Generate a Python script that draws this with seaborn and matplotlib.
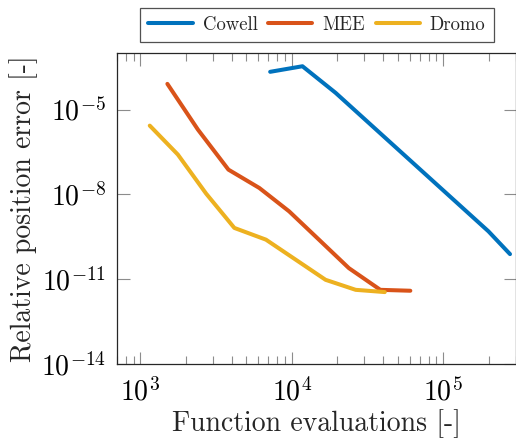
import numpy as np
import pandas as pd
import matplotlib
matplotlib.use("Agg")
import matplotlib.pyplot as plt
import seaborn as sns
from matplotlib.ticker import LogLocator, NullLocator, FixedLocator
from matplotlib.lines import Line2D

# ---- data ----
cowell_x = [7190, 11750, 19450, 199000, 276000]
cowell_y = [2.16e-4, 3.4e-4, 3.9e-5, 4.9e-10, 7.7e-11]

mee_x = [1506, 2395, 3810, 6100, 9600, 15100, 23800, 38400, 60600]
mee_y = [8.1e-5, 1.96e-6, 7.5e-8, 1.68e-8, 2.5e-9, 2.5e-10, 2.46e-11, 4.2e-12, 3.9e-12]

dromo_x = [1152, 1767, 2716, 4170, 6745, 10600, 16700, 26400, 41100]
dromo_y = [2.7e-6, 2.55e-7, 1.06e-8, 6.5e-10, 2.5e-10, 4.9e-11, 9.5e-12, 4.2e-12, 3.5e-12]

methods = ["Cowell", "MEE", "Dromo"]
colors = ["#0072BD", "#D95319", "#EDB120"]
y_ticks = [1e-14, 1e-11, 1e-8, 1e-5]

df = pd.concat([
    pd.DataFrame({"x": cowell_x, "y": cowell_y, "method": "Cowell"}),
    pd.DataFrame({"x": mee_x, "y": mee_y, "method": "MEE"}),
    pd.DataFrame({"x": dromo_x, "y": dromo_y, "method": "Dromo"}),
], ignore_index=True)

sns.set_theme(style="ticks")
plt.rcParams["font.family"] = ["cmr10", "DejaVu Serif"]
plt.rcParams["mathtext.fontset"] = "cm"
plt.rcParams["axes.unicode_minus"] = False
plt.rcParams["axes.formatter.use_mathtext"] = True

fig = plt.figure(figsize=(5.16, 4.45), dpi=100)
ax = fig.add_axes([117/516, 81/445, 398.5/516, 311/445])

sns.lineplot(data=df, x="x", y="y", hue="method", hue_order=methods,
             palette=dict(zip(methods, colors)), sort=False, estimator=None,
             linewidth=2.9, ax=ax, legend=False)

ax.set_xscale("log")
ax.set_yscale("log")
ax.set_xlim(700, 3e5)
ax.set_ylim(1e-14, 1e-3)
ax.yaxis.set_major_locator(FixedLocator(y_ticks))
ax.yaxis.set_minor_locator(NullLocator())
ax.xaxis.set_major_locator(LogLocator(base=10))
ax.xaxis.set_minor_locator(LogLocator(base=10, subs=np.arange(2, 10)))

ax.tick_params(which="both", direction="in", top=True, right=True,
               color="#8c8c8c", labelsize=20, labelcolor="black", width=0.8)
ax.tick_params(axis="x", which="major", length=9, pad=10)
ax.tick_params(axis="y", which="major", length=9, pad=8)
ax.tick_params(which="minor", length=6)
for s in ax.spines.values():
    s.set_color("#262626")
    s.set_linewidth(0.9)

ax.set_xlabel("Function evaluations [-]", fontsize=20, labelpad=2)
ax.set_ylabel("Relative position error [-]", fontsize=20, labelpad=2)

handles = [Line2D([], [], color=c, linewidth=2.9) for c in colors]
leg = fig.legend(handles, methods, loc="center", bbox_to_anchor=(317/516, 1 - 25/445),
                 ncol=3, fontsize=13.5, frameon=True, fancybox=False,
                 handlelength=2.35, handletextpad=0.55, columnspacing=0.55,
                 borderpad=0.45, borderaxespad=0)
leg.get_frame().set_edgecolor("#262626")
leg.get_frame().set_linewidth(0.9)

fig.savefig("out.png", dpi=100)
